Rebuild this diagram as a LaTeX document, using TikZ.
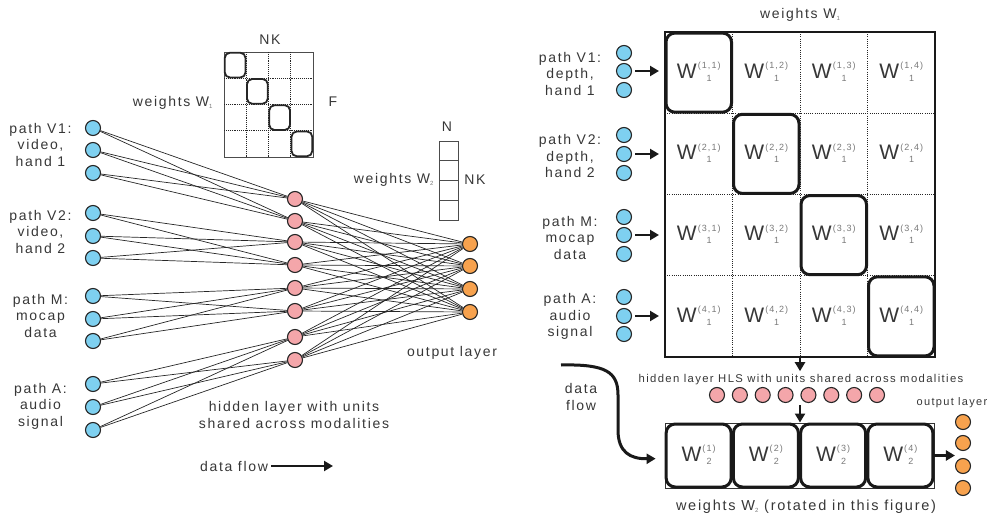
\documentclass[tikz,border=0pt]{standalone}
\usepackage{fontspec}
\setmainfont{Liberation Sans}[LetterSpace=12]
\usetikzlibrary{arrows.meta}
\definecolor{nblue}{RGB}{126,208,240}
\definecolor{npink}{RGB}{244,166,170}
\definecolor{norange}{RGB}{247,162,78}
\definecolor{tgray}{RGB}{55,55,55}
\definecolor{sgray}{RGB}{120,120,120}
\newcommand{\Wlab}[2]{{\fontsize{21}{21}\selectfont W}\kern1pt\raisebox{-3pt}{\fontsize{9}{12.5}\selectfont\color{sgray}\begin{tabular}[b]{@{}c@{}}#1\\#2\end{tabular}}}
\newcommand{\subn}[1]{\raisebox{-2pt}{\fontsize{6}{6}\selectfont\color{sgray}#1}}
\begin{document}
\begin{tikzpicture}[x=1pt,y=-1pt,
  every node/.style={text=tgray, font=\fontsize{14}{16.5}\selectfont},
  inp/.style={circle, draw=black!85, line width=1.1pt, fill=nblue, minimum size=15pt, inner sep=0pt},
  hid/.style={inp, fill=npink},
  outn/.style={inp, fill=norange},
  conn/.style={line width=0.7pt, black!85},
  lab/.style={align=center},
  bigarrow/.style={line width=2.6pt, black!90, -{Triangle[length=9pt,width=10pt]}},
  dotgrid/.style={line width=1pt, black!85, dash pattern=on 1pt off 1.2pt},
  sdotgrid/.style={line width=0.8pt, black!85, dash pattern=on 0.9pt off 1pt},
  diag/.style={draw=black!90, line width=3pt, rounded corners=9pt},
  sdiag/.style={draw=black!85, line width=1.8pt, rounded corners=5pt},
  cell/.style={inner sep=1pt},
  wbox/.style={draw=black!90, line width=3pt, rounded corners=9pt, minimum width=65pt, minimum height=63pt, inner sep=0pt}]
\useasboundingbox (0,0) rectangle (990,521);

% ---------------- left network ----------------
\foreach \n/\y in {1/128,2/150,3/173,4/213,5/236,6/258,7/296,8/319,9/341,10/384,11/407,12/430}
  \node[inp] (i\n) at (93,\y) {};
\foreach \n/\y in {1/199,2/221,3/242,4/265,5/288,6/311,7/337,8/360}
  \node[hid] (h\n) at (295,\y) {};
\foreach \n/\y in {1/244,2/266,3/289,4/312}
  \node[outn] (o\n) at (470,\y) {};
\foreach \i/\a/\b in {1/1/2,2/1/2,3/1/2,4/3/4,5/3/4,6/3/4,7/5/6,8/5/6,9/5/6,10/7/8,11/7/8,12/7/8}{
  \draw[conn] (i\i) -- (h\a);
  \draw[conn] (i\i) -- (h\b);
}
\foreach \h in {1,...,8}
  \foreach \o in {1,...,4}
    \draw[conn] (h\h) -- (o\o);

\node[lab] (lv1) at (40.5,144.5) {path V1:\\video,\\hand 1};
\node[lab] (lv2) at (40.5,231.5) {path V2:\\video,\\hand 2};
\node[lab] (lm) at (40.5,315.5) {path M:\\mocap\\data};
\node[lab] (la) at (40.5,406) {path A:\\audio\\signal};

% small W1 matrix
\draw[line width=0.8pt, black!70] (224,52) rectangle (313,157);
\foreach \x in {246.25,268.5,290.75} \draw[sdotgrid] (\x,52) -- (\x,157);
\foreach \y in {78.25,104.5,130.75} \draw[sdotgrid] (224,\y) -- (313,\y);
\foreach \k in {0,1,2,3}
  \draw[sdiag] ({224+22.25*\k+0.8},{52+26.25*\k+0.8}) rectangle ({224+22.25*(\k+1)-0.8},{52+26.25*(\k+1)-0.8});
\node (nk1) at (270,40) {NK};
\node (f1) at (333,102) {F};
\node[anchor=east] (w1l) at (216,103) {weights W\subn{1}};

% small W2 vector
\draw[line width=0.8pt, black!70] (439,141) rectangle (458,220);
\foreach \y in {160.75,180.5,200.25} \draw[line width=0.8pt, black!70] (439,\y) -- (458,\y);
\node (n2) at (447,127) {N};
\node (nk2) at (475,180) {NK};
\node[anchor=east] (w2l) at (437,180) {weights W\subn{2}};

\node (outl) at (452,353) {output layer};
\node[align=center] (hidl) at (294,415) {hidden layer with units\\shared across modalities};
\node (dfl) at (234,466) {data flow};
\coordinate (dflend) at (333,466);
\draw[bigarrow] (dfl.east) -- (dflend);

% ---------------- right part ----------------
\node (w1t) at (800,15) {weights W\subn{1}};
\foreach \i in {1,...,4}
  \foreach \j in {1,...,4}
    \node[cell] (c\i\j) at ({665+67.5*(\j-0.5)},{32+81.25*(\i-0.5)}) {\Wlab{(\i,\j)}{1}};
\draw[line width=1.1pt, black!90] (665,32) rectangle (935,357);
\foreach \x in {732.5,800,867.5} \draw[dotgrid] (\x,32) -- (\x,357);
\foreach \y in {113.25,194.5,275.75} \draw[dotgrid] (665,\y) -- (935,\y);
\foreach \k in {1,...,4}
  \draw[diag] ([shift={(-32.75,-39.6)}]c\k\k.center) rectangle ([shift={(32.75,39.6)}]c\k\k.center);

\foreach \n/\y in {1/53,2/71,3/90,4/135,5/154,6/173,7/217,8/235,9/254,10/297,11/316,12/334}
  \node[inp] (r\n) at (624,\y) {};
\coordinate (mleft) at (665,72.6);
\foreach \n in {2,5,8,11}
  \draw[bigarrow, shorten <=3pt, shorten >=6pt] (r\n.east) -- (r\n.east -| mleft);

\node[lab] (rl1) at (570,73.5) {path V1:\\depth,\\hand 1};
\node[lab] (rl2) at (570,156) {path V2:\\depth,\\hand 2};
\node[lab] (rl3) at (570,237.5) {path M:\\mocap\\data};
\node[lab] (rl4) at (570,316.5) {path A:\\audio\\signal};

\node[font=\fontsize{11.3}{13}\selectfont] (hls) at (801,380) {hidden layer HLS with units shared across modalities};
\coordinate (mbot) at (800,357);
\draw[bigarrow] (mbot) -- (mbot |- hls.north);

\foreach \k in {1,...,8}
  \node[hid] (p\k) at ({717+160/7*(\k-1)},395) {};

\draw[line width=0.8pt, black!80] (665,423) rectangle (934,488);
\foreach \k in {1,...,4}
  \node[wbox] (w2\k) at ({665+67.25*(\k-0.5)},455.5) {\Wlab{(\k)}{2}};

\coordinate (hdown) at (800,405);
\draw[bigarrow] (hdown) -- (hdown |- w22.north);

\foreach \n/\y in {1/422,2/443,3/466,4/488}
  \node[outn] (ro\n) at (963,\y) {};
\draw[bigarrow] (w24.east) -- (w24.east -| ro1.west);
\node[font=\fontsize{11}{13}\selectfont] (rol) at (952,403) {output layer};

\node[align=center, font=\fontsize{14}{17}\selectfont] (rdf) at (581,396.5) {data\\flow};
\coordinate (cstart) at (561,365);
\draw[line width=3pt, black!90, -{Triangle[length=9pt,width=10pt]}, shorten >=9pt]
  (cstart) .. controls (606,364) and (618,372) .. (618,395) -- (618,430)
  .. controls (618,452) and (630,459) .. ([yshift=-3pt]w21.west);

\node[font=\fontsize{14.5}{16}\selectfont] (w2t) at (806,507) {weights W\subn{2} (rotated in this figure)};
\end{tikzpicture}
\end{document}
